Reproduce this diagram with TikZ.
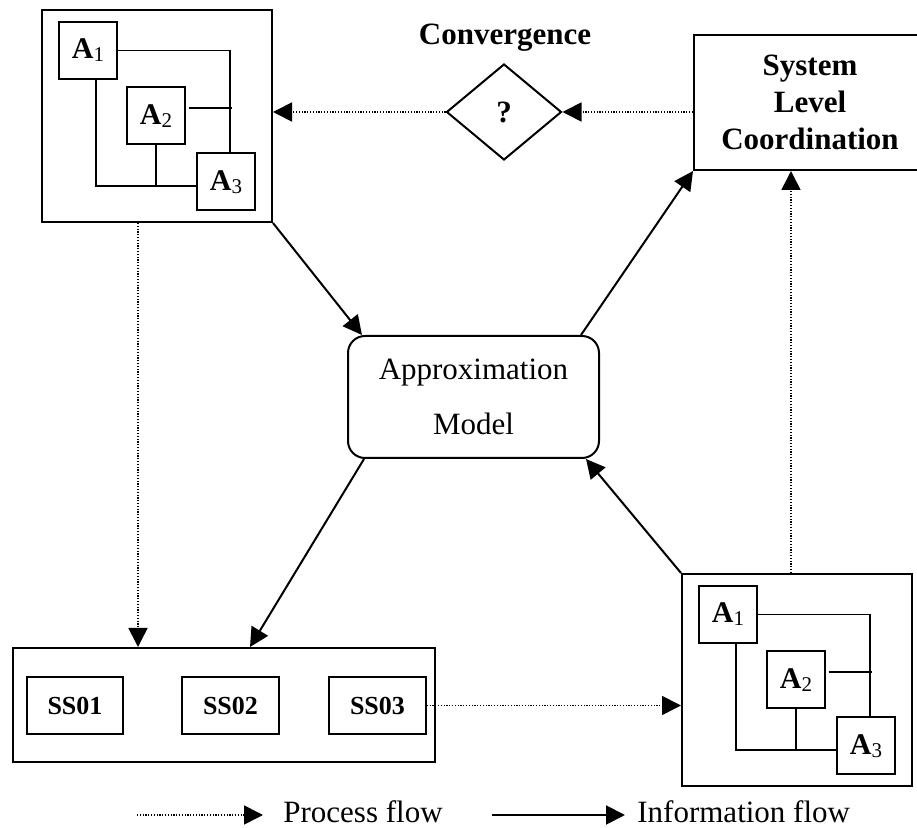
\documentclass[tikz,border=0pt]{standalone}
\usepackage{fontspec}
\setmainfont{Liberation Serif}
\usetikzlibrary{arrows.meta,shapes.geometric}

\begin{document}
\begin{tikzpicture}[x=0.5pt,y=-0.5pt,
  box/.style={draw,line width=1pt,inner sep=0pt},
  sub/.style={box,minimum width=29pt,minimum height=28.5pt,font=\fontsize{15}{17}\selectfont\bfseries},
  ss/.style={box,minimum width=48.3pt,minimum height=28.5pt,font=\fontsize{13}{15}\selectfont\bfseries},
  info/.style={line width=1pt,-{Triangle[length=9.5pt,width=9.5pt]}},
  proc/.style={line width=0.8pt,dash pattern=on 0.6pt off 0.8pt,-{Triangle[length=9.5pt,width=9.5pt]}},
  big/.style={font=\fontsize{15.5}{18.5}\selectfont}]
\useasboundingbox (0,0) rectangle (917,828);

% the two sub-system clusters
\foreach \p/\dx/\dy in {t/0/0,b/640/564}{
  \begin{scope}[shift={(\dx,\dy)}]
    \node[box,minimum width=115pt,minimum height=106pt] (\p box) at (157,116) {};
    \node[sub] (\p a1) at (88,50.5) {A{\mdseries\fontsize{10.5}{11}\selectfont\raisebox{-1.5pt}{1}}};
    \node[sub] (\p a2) at (156,116) {A{\mdseries\fontsize{10.5}{11}\selectfont\raisebox{-1.5pt}{2}}};
    \node[sub] (\p a3) at (226,182) {A{\mdseries\fontsize{10.5}{11}\selectfont\raisebox{-1.5pt}{3}}};
    \draw[line width=0.9pt] (\p a1.east) -| ([xshift=2pt]\p a3.north);
    \draw[line width=0.9pt] ([xshift=1.3pt,yshift=4pt]\p a2.east) -- ++(43.5,0);
    \draw[line width=0.9pt] ([xshift=4pt]\p a1.south) |- ([yshift=-2pt]\p a3.west);
    \draw[line width=0.9pt] (\p a2.south) -- ++(0,41);
  \end{scope}
}

\node[draw,diamond,line width=1pt,inner sep=0pt,minimum width=57.5pt,minimum height=48pt,
  font=\fontsize{15.5}{18.5}\selectfont\bfseries] (conv) at (504,112) {?};
\node[big,font=\fontsize{15.5}{18.5}\selectfont\bfseries,anchor=base,inner sep=0pt] (convlabel) at (505,45) {Convergence};

\node[box,big,minimum width=116pt,minimum height=67.5pt,align=center,
  font=\fontsize{15.5}{18.5}\selectfont\bfseries] (slc) at (810,102.5) {System\\Level\\Coordination};

\node[draw,big,rounded corners=8.5pt,line width=1pt,inner sep=0pt,minimum width=125.5pt,
  minimum height=61pt,align=center] (approx) at (473.5,397) {Approximation\\[9pt]Model};

% sub-systems
\node[box,minimum width=211pt,minimum height=57pt] (sys) at (224,705) {};
\node[ss] (ss1) at (75,705.5) {SS01};
\node[ss] (ss2) at (230.5,705.5) {SS02};
\node[ss] (ss3) at (377.5,705.5) {SS03};

% information flow
\draw[info] (tbox.south east) -- ([xshift=7.5pt]approx.north west);
\draw[info] ([xshift=-9.5pt]approx.north east) -- (slc.south west);
\draw[info] ([xshift=8.5pt]approx.south west) -- ([xshift=13pt]sys.north);
\draw[info] (bbox.north west) -- ([xshift=-7pt]approx.south east);

% process flow
\draw[proc] ([xshift=-9.5pt]tbox.south) -- ([xshift=-9.5pt]tbox.south |- sys.north);
\draw[proc] (ss3.east) -- (ss3.east -| bbox.west);
\draw[proc] ([xshift=-3pt]bbox.north) -- ([xshift=-3pt]bbox.north |- slc.south);
\draw[proc] (slc.west |- conv) -- (conv.east);
\draw[proc] (conv.west) -- (conv.west -| tbox.east);

% legend
\coordinate (pstart) at (137,815);
\node[big,anchor=base west,inner sep=0pt] (ptext) at (283,823) {Process flow};
\draw[proc] (pstart) -- ([xshift=-10pt]pstart -| ptext.west);
\coordinate (istart) at (492,815);
\node[big,anchor=base west,inner sep=0pt] (itext) at (637,823) {Information flow};
\draw[info] (istart) -- ([xshift=-6pt]istart -| itext.west);
\end{tikzpicture}
\end{document}
